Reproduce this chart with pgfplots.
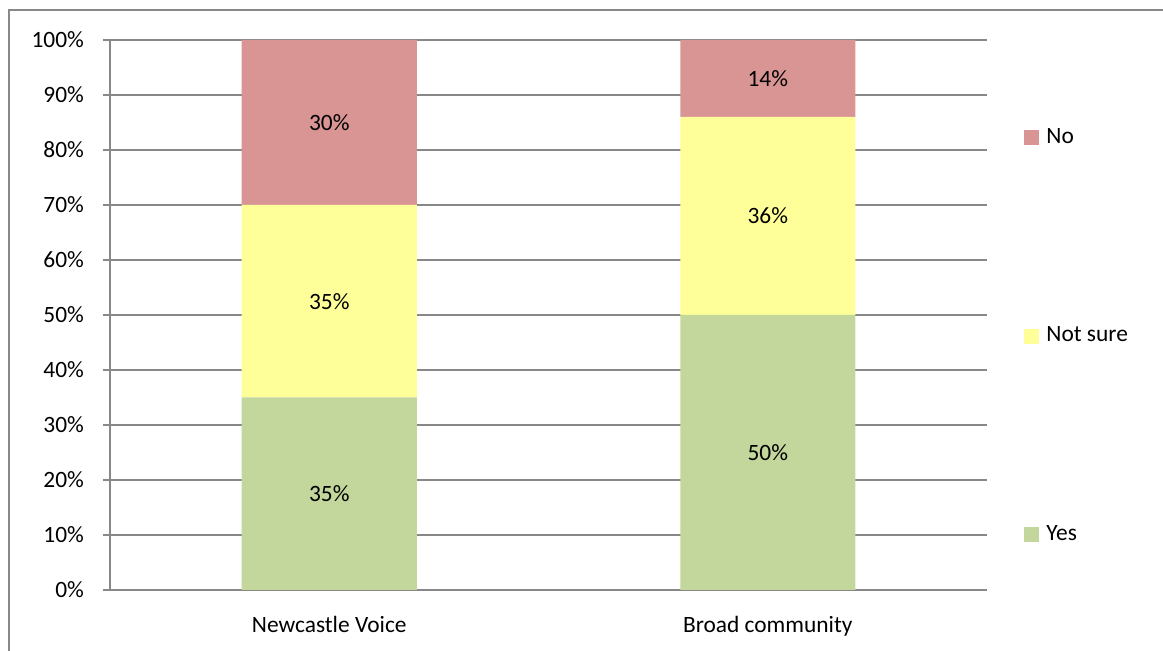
\documentclass[border=0pt]{standalone}
\usepackage{fontspec}
\setmainfont{Carlito}
\usepackage{pgfplots}
\pgfplotsset{compat=1.18}
\definecolor{cNo}{HTML}{D99594}
\definecolor{cNot}{HTML}{FFFF99}
\definecolor{cYes}{HTML}{C3D69B}
\definecolor{cLine}{HTML}{888888}
\begin{document}
\begin{tikzpicture}[font=\fontsize{11.7}{14}\selectfont]
\useasboundingbox (0,0) rectangle (581.5pt,325.5pt);
\draw[cLine, line width=0.9pt] (4.5pt,-2pt) -- (4.5pt,320.5pt) -- (584pt,320.5pt);
\begin{axis}[
    at={(55pt,30.5pt)}, anchor=south west,
    scale only axis,
    width=438.5pt, height=275pt,
    ybar stacked,
    bar width=87.5pt,
    xmin=-0.5, xmax=1.5,
    ymin=0, ymax=100,
    xtick={0,1},
    xticklabels={Newcastle Voice, Broad community},
    major x tick style={draw=none},
    extra x ticks={-0.5,0.5,1.5},
    extra x tick labels={},
    extra x tick style={grid=none, major tick length=3.5pt, tick style={draw=cLine, line width=0.7pt}},
    ytick={0,10,...,100},
    yticklabel={\pgfmathprintnumber{\tick}\%},
    /pgf/number format/assume math mode=true,
    tick align=outside,
    major tick length=3.5pt,
    ytick style={draw=cLine, line width=0.7pt},
    ymajorgrids,
    grid style={cLine, line width=0.7pt},
    axis x line*=bottom,
    axis y line*=left,
    axis line style={draw=cLine, line width=0.7pt, -},
    xticklabel style={yshift=-6pt},
    yticklabel style={xshift=-6pt},
    point meta=rawy,
    nodes near coords={\pgfmathprintnumber{\pgfplotspointmeta}\%},
    every node near coord/.append style={anchor=center, text=black},
    legend image code/.code={\fill[#1] (0pt,-3.75pt) rectangle (7.5pt,3.75pt); \path (9.5pt,0pt);},
    reverse legend,
    legend cell align=left,
    legend style={at={(1,0.5)}, anchor=west, xshift=18.5pt, yshift=-10.75pt, draw=none, fill=none,
        inner sep=0pt, row sep=86.75pt,
        nodes={inner sep=1.5pt, text height=7.5pt, text depth=2pt}},
]
\addplot+[fill=cYes, draw=none] coordinates {(0,35) (1,50)};
\addplot+[fill=cNot, draw=none] coordinates {(0,35) (1,36)};
\addplot+[fill=cNo, draw=none] coordinates {(0,30) (1,14)};
\legend{Yes, Not sure, No}
\end{axis}
\end{tikzpicture}
\end{document}
